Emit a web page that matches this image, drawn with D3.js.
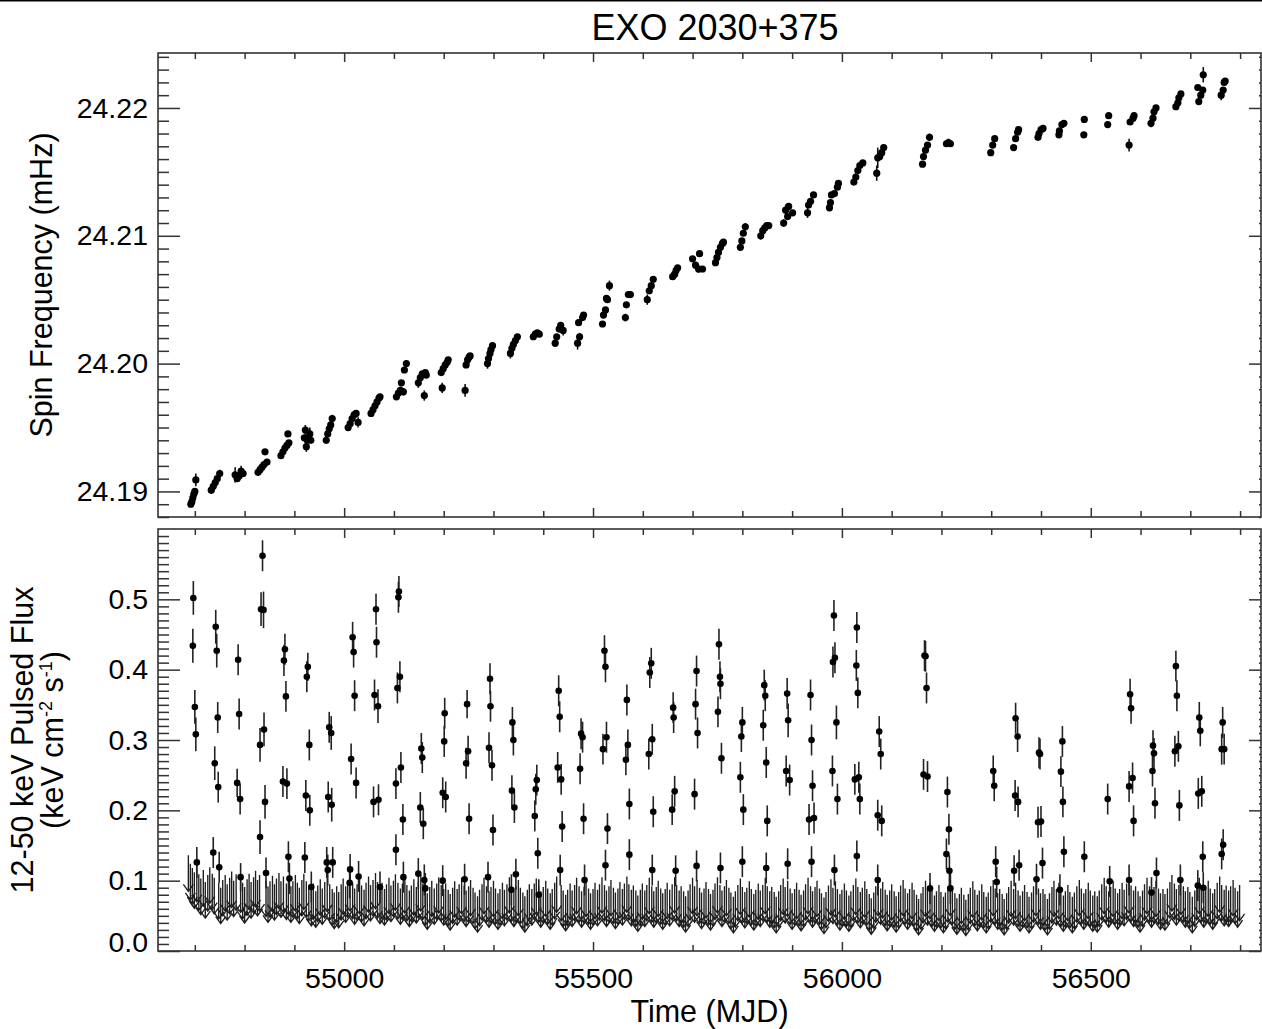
<!DOCTYPE html>
<html><head><meta charset="utf-8">
<script src="https://cdn.jsdelivr.net/npm/d3@7"></script>
<style>
body{margin:0;background:#fff}
svg{display:block}
text{font-family:"Liberation Sans",Arial,Helvetica,sans-serif;fill:#000}
</style>
</head><body>
<svg id="chart" width="1262" height="1029"></svg>
<script>
// ---------------- DATA ----------------
const chartTitle = "EXO 2030+375";
const xTitle = "Time (MJD)";
const spinTitle = "Spin Frequency (mHz)";
const xMajorTicks = [55000, 55500, 56000, 56500];
const xTickLabels = ["55000", "55500", "56000", "56500"];
const spinTicks = [24.19, 24.20, 24.21, 24.22];
const spinTickLabels = ["24.19", "24.20", "24.21", "24.22"];
const fluxTicks = [0.0, 0.1, 0.2, 0.3, 0.4, 0.5];
const fluxTickLabels = ["0.0", "0.1", "0.2", "0.3", "0.4", "0.5"];

// [MJD, spin frequency (mHz), error]
const spinPoints = [
[54692,24.1890,.0002],[54694,24.1892,.0002],[54696,24.1895,.0002],[54698,24.1898,.0002],[54700,24.1900,.0002],[54702,24.1909,.0005],
[54733,24.1901,.0003],[54737,24.1904,.0002],[54741,24.1907,.0002],[54745,24.1910,.0002],[54750,24.1914,.0003],
[54781,24.1913,.0006],[54785,24.1910,.0002],[54789,24.1912,.0002],[54793,24.1916,.0004],[54797,24.1914,.0002],
[54827,24.1915,.0003],[54831,24.1917,.0002],[54835,24.1919,.0002],[54839,24.1921,.0002],[54845,24.1923,.0002],[54841,24.1931,.0002],
[54873,24.1928,.0002],[54877,24.1931,.0002],[54881,24.1934,.0002],[54885,24.1936,.0002],[54889,24.1938,.0002],[54887,24.1945,.0002],
[54920,24.1942,.0002],[54922,24.1948,.0004],[54924,24.1935,.0004],[54926,24.1940,.0002],[54931,24.1945,.0005],[54933,24.1940,.0002],
[54964,24.1940,.0002],[54967,24.1945,.0002],[54970,24.1949,.0002],[54973,24.1952,.0002],[54976,24.1957,.0003],
[55008,24.1950,.0003],[55012,24.1953,.0002],[55016,24.1957,.0002],[55020,24.1960,.0002],[55024,24.1961,.0002],[55028,24.1954,.0004],
[55054,24.1961,.0002],[55058,24.1964,.0002],[55062,24.1967,.0002],[55066,24.1970,.0002],[55070,24.1973,.0002],[55072,24.1974,.0002],
[55105,24.1974,.0002],[55109,24.1977,.0002],[55113,24.1979,.0003],[55115,24.1985,.0002],[55119,24.1978,.0003],[55121,24.1995,.0002],[55125,24.2000,.0002],
[55149,24.1985,.0004],[55153,24.1989,.0002],[55157,24.1992,.0002],[55163,24.1993,.0002],[55165,24.1991,.0002],[55161,24.1975,.0004],
[55195,24.1993,.0002],[55199,24.1996,.0002],[55203,24.1999,.0002],[55207,24.2001,.0002],[55209,24.2003,.0002],[55197,24.1981,.0004],
[55245,24.1999,.0002],[55248,24.2003,.0002],[55251,24.2005,.0002],[55253,24.2006,.0002],[55243,24.1979,.0005],
[55288,24.2000,.0004],[55290,24.2004,.0002],[55293,24.2008,.0002],[55295,24.2011,.0002],[55298,24.2014,.0002],
[55334,24.2008,.0004],[55337,24.2012,.0002],[55340,24.2015,.0002],[55344,24.2018,.0002],[55348,24.2021,.0002],
[55380,24.2021,.0002],[55384,24.2023,.0002],[55388,24.2024,.0002],[55392,24.2023,.0002],
[55424,24.2016,.0003],[55427,24.2021,.0002],[55432,24.2027,.0002],[55435,24.2030,.0002],[55440,24.2026,.0004],
[55469,24.2016,.0005],[55473,24.2021,.0003],[55471,24.2032,.0002],[55479,24.2036,.0002],[55481,24.2038,.0002],
[55519,24.2031,.0002],[55521,24.2038,.0002],[55525,24.2042,.0002],[55529,24.2050,.0002],[55527,24.2051,.0002],[55533,24.2061,.0004],
[55565,24.2036,.0003],[55567,24.2046,.0002],[55571,24.2054,.0002],[55575,24.2054,.0002],
[55609,24.2050,.0004],[55613,24.2057,.0002],[55617,24.2061,.0002],[55621,24.2066,.0002],
[55660,24.2068,.0002],[55664,24.2070,.0003],[55667,24.2073,.0002],[55670,24.2075,.0002],
[55700,24.2082,.0002],[55706,24.2077,.0002],[55712,24.2074,.0003],[55714,24.2086,.0002],[55720,24.2074,.0002],
[55746,24.2079,.0002],[55749,24.2083,.0002],[55752,24.2087,.0002],[55756,24.2091,.0002],[55760,24.2094,.0003],[55762,24.2095,.0002],
[55796,24.2091,.0002],[55799,24.2096,.0002],[55802,24.2102,.0002],[55806,24.2107,.0003],
[55837,24.2100,.0003],[55841,24.2104,.0002],[55845,24.2106,.0002],[55849,24.2108,.0002],[55853,24.2108,.0002],
[55883,24.2110,.0003],[55887,24.2120,.0004],[55891,24.2115,.0002],[55893,24.2123,.0002],[55901,24.2118,.0002],
[55931,24.2118,.0004],[55933,24.2124,.0002],[55937,24.2127,.0002],[55943,24.2132,.0002],
[55975,24.2122,.0003],[55977,24.2126,.0002],[55979,24.2132,.0002],[55985,24.2133,.0002],[55991,24.2138,.0002],[55993,24.2141,.0002],
[56024,24.2142,.0002],[56028,24.2146,.0003],[56032,24.2151,.0002],[56036,24.2155,.0002],[56042,24.2157,.0002],
[56070,24.2149,.0006],[56072,24.2161,.0008],[56076,24.2162,.0002],[56080,24.2165,.0002],[56084,24.2169,.0002],
[56162,24.2156,.0002],[56164,24.2162,.0002],[56168,24.2167,.0002],[56172,24.2171,.0002],[56176,24.2177,.0003],
[56210,24.2172,.0002],[56214,24.2173,.0003],[56218,24.2172,.0002],
[56299,24.2165,.0002],[56303,24.2171,.0002],[56307,24.2176,.0002],
[56345,24.2169,.0002],[56349,24.2176,.0002],[56353,24.2181,.0002],[56355,24.2183,.0002],
[56394,24.2177,.0002],[56396,24.2180,.0002],[56400,24.2183,.0002],[56404,24.2184,.0002],
[56436,24.2179,.0002],[56437,24.2182,.0002],[56442,24.2187,.0002],[56446,24.2188,.0002],
[56486,24.2179,.0002],[56487,24.2191,.0002],
[56534,24.2187,.0002],[56536,24.2194,.0002],
[56577,24.2171,.0005],[56579,24.2189,.0002],[56585,24.2192,.0002],[56587,24.2194,.0002],
[56621,24.2188,.0003],[56625,24.2192,.0002],[56627,24.2197,.0002],[56631,24.2200,.0002],
[56671,24.2201,.0002],[56675,24.2204,.0002],[56677,24.2208,.0002],[56681,24.2211,.0002],
[56715,24.2216,.0002],[56717,24.2205,.0002],[56721,24.2210,.0002],[56725,24.2214,.0002],[56726,24.2226,.0006],
[56762,24.2210,.0004],[56766,24.2214,.0002],[56768,24.2220,.0002],[56770,24.2221,.0002]
];

// [MJD, 12-50 keV pulsed flux, error]
const fluxPoints = [
[54697,.502,.024],[54696,.434,.024],[54700,.347,.024],[54702,.308,.024],[54704,.126,.022],
[54742,.461,.024],[54744,.427,.024],[54746,.332,.022],[54740,.267,.024],[54747,.233,.022],[54737,.140,.022],[54749,.119,.022],
[54787,.414,.022],[54789,.337,.022],[54785,.239,.020],[54791,.216,.022],[54792,.105,.020],
[54836,.562,.022],[54833,.486,.024],[54838,.485,.026],[54839,.315,.024],[54831,.293,.024],[54841,.212,.024],[54831,.162,.024],[54843,.111,.022],
[54881,.429,.022],[54879,.413,.022],[54883,.362,.022],[54877,.241,.022],[54885,.238,.022],[54888,.134,.022],[54890,.103,.022],
[54927,.404,.020],[54925,.390,.022],[54930,.293,.022],[54923,.221,.022],[54931,.200,.022],[54921,.133,.022],[54934,.091,.022],
[54970,.318,.022],[54974,.310,.024],[54968,.219,.022],[54975,.208,.024],[54965,.126,.022],[54977,.126,.022],[54967,.115,.022],
[55017,.446,.022],[55019,.425,.022],[55021,.363,.022],[55014,.273,.022],[55024,.239,.022],[55012,.116,.022],[55011,.097,.022],[55029,.106,.022],
[55064,.486,.022],[55065,.439,.022],[55061,.364,.022],[55068,.348,.024],[55059,.212,.022],[55069,.215,.022],[55072,.091,.022],
[55109,.503,.022],[55110,.511,.022],[55112,.390,.022],[55107,.374,.022],[55114,.261,.022],[55104,.238,.022],[55118,.187,.022],[55104,.144,.022],[55119,.105,.022],
[55155,.288,.022],[55157,.275,.022],[55153,.204,.022],[55159,.181,.022],[55149,.110,.022],[55161,.101,.022],[55163,.089,.022],
[55202,.338,.022],[55201,.298,.022],[55198,.225,.022],[55204,.219,.022],[55198,.100,.022],
[55247,.351,.020],[55249,.284,.022],[55245,.267,.022],[55251,.188,.022],[55242,.102,.022],
[55293,.387,.022],[55294,.348,.022],[55291,.289,.022],[55297,.264,.022],[55299,.172,.022],[55289,.105,.022],
[55338,.325,.022],[55340,.300,.022],[55337,.228,.022],[55342,.204,.022],[55345,.109,.022],[55336,.087,.022],
[55387,.243,.022],[55385,.230,.022],[55383,.192,.022],[55389,.139,.022],[55391,.080,.022],
[55431,.370,.022],[55433,.333,.022],[55429,.261,.022],[55436,.244,.022],[55438,.177,.022],[55434,.115,.022],
[55476,.309,.022],[55479,.304,.022],[55474,.259,.022],[55481,.188,.022],[55483,.101,.022],
[55523,.427,.022],[55525,.404,.022],[55527,.304,.022],[55520,.287,.022],[55529,.174,.022],[55525,.122,.022],
[55568,.357,.022],[55570,.293,.022],[55566,.272,.022],[55573,.209,.022],[55573,.137,.022],
[55617,.409,.022],[55614,.396,.022],[55619,.301,.022],[55612,.280,.022],[55621,.198,.022],[55619,.115,.022],
[55661,.346,.022],[55662,.332,.022],[55664,.227,.022],[55659,.201,.022],[55666,.114,.022],
[55708,.398,.022],[55706,.351,.022],[55710,.310,.022],[55704,.223,.022],[55708,.121,.022],
[55753,.436,.022],[55755,.390,.022],[55756,.380,.022],[55751,.340,.022],[55758,.274,.022],[55756,.118,.022],
[55800,.325,.022],[55798,.305,.022],[55796,.247,.022],[55802,.201,.022],[55800,.127,.022],
[55844,.378,.022],[55846,.363,.022],[55842,.321,.022],[55848,.268,.022],[55850,.185,.022],[55848,.118,.022],
[55890,.366,.022],[55892,.328,.024],[55888,.256,.022],[55895,.243,.022],[55891,.124,.022],
[55937,.364,.022],[55939,.300,.022],[55941,.235,.022],[55934,.187,.022],[55944,.189,.022],[55939,.127,.022],
[55984,.477,.022],[55986,.417,.022],[55982,.411,.022],[55989,.325,.024],[55981,.256,.022],[55991,.216,.022],[55985,.115,.022],
[56030,.460,.022],[56029,.406,.022],[56032,.367,.022],[56026,.244,.022],[56034,.247,.022],[56036,.216,.022],[56030,.135,.022],
[56075,.312,.022],[56078,.280,.022],[56072,.193,.022],[56080,.185,.022],[56072,.101,.022],
[56166,.420,.022],[56168,.419,.022],[56170,.374,.022],[56164,.251,.022],[56172,.248,.022],[56177,.089,.022],
[56212,.226,.022],[56215,.173,.022],[56210,.138,.022],[56216,.114,.022],[56218,.089,.022],
[56304,.256,.022],[56306,.235,.022],[56309,.127,.022],[56311,.098,.022],
[56349,.331,.022],[56353,.305,.022],[56348,.221,.022],[56354,.212,.022],[56346,.114,.022],[56356,.122,.022],
[56396,.282,.022],[56398,.280,.022],[56394,.183,.022],[56400,.184,.022],[56391,.102,.022],[56403,.125,.022],
[56443,.298,.022],[56440,.255,.022],[56444,.212,.022],[56438,.087,.022],[56446,.141,.022],
[56487,.134,.022],
[56534,.216,.022],[56538,.099,.022],
[56579,.365,.022],[56581,.345,.022],[56577,.234,.022],[56584,.246,.022],[56586,.185,.022],[56577,.101,.022],
[56625,.292,.022],[56627,.281,.022],[56624,.256,.022],[56629,.210,.022],[56622,.083,.022],[56632,.111,.022],
[56671,.405,.022],[56673,.363,.022],[56669,.284,.022],[56676,.291,.022],[56678,.207,.022],[56680,.101,.022],
[56718,.332,.022],[56720,.313,.022],[56716,.224,.022],[56723,.227,.022],[56715,.093,.022],[56725,.134,.022],[56726,.090,.022],
[56765,.325,.022],[56763,.287,.022],[56768,.287,.022],[56763,.138,.022],[56766,.151,.022]
];

// [MJD, 12-50 keV pulsed flux upper limit]
const fluxLimits = [
[54687,.136],[54691,.124],[54695,.118],[54699,.112],[54704,.121],[54708,.109],[54712,.103],[54717,.115],[54721,.098],[54726,.108],
[54730,.119],[54735,.110],[54739,.104],[54748,.097],[54752,.090],[54756,.101],[54761,.108],[54765,.095],[54770,.104],[54774,.113],
[54778,.100],[54783,.109],[54792,.106],[54796,.097],[54800,.091],[54805,.102],[54809,.110],[54813,.098],[54818,.105],[54822,.114],
[54826,.101],[54830,.108],[54843,.100],[54847,.092],[54851,.099],[54856,.107],[54860,.095],[54864,.103],[54869,.111],[54873,.099],
[54878,.106],[54884,.096],[54888,.103],[54893,.092],[54897,.099],[54902,.108],[54906,.097],[54910,.090],[54915,.101],[54919,.110],
[54924,.099],[54929,.094],[54934,.087],[54938,.096],[54943,.085],[54947,.093],[54952,.102],[54956,.089],[54961,.098],[54966,.107],
[54971,.095],[54976,.088],[54980,.083],[54985,.092],[54989,.084],[54994,.095],[54998,.103],[55003,.092],[55007,.099],[55012,.108],
[55017,.097],[55021,.089],[55026,.095],[55031,.104],[55035,.093],[55040,.087],[55044,.097],[55049,.106],[55053,.094],[55058,.101],
[55063,.111],[55067,.098],[55072,.090],[55076,.097],[55081,.088],[55085,.095],[55090,.104],[55094,.093],[55099,.100],[55103,.109],
[55108,.097],[55113,.089],[55117,.096],[55122,.105],[55126,.094],[55131,.086],[55135,.093],[55140,.102],[55145,.091],[55149,.098],
[55154,.108],[55158,.096],[55163,.088],[55167,.082],[55172,.091],[55176,.100],[55181,.089],[55186,.096],[55190,.105],[55195,.094],
[55200,.088],[55204,.096],[55209,.087],[55213,.081],[55218,.090],[55222,.099],[55227,.088],[55231,.095],[55236,.104],[55241,.093],
[55245,.086],[55250,.092],[55254,.101],[55259,.090],[55263,.083],[55268,.078],[55272,.087],[55277,.095],[55281,.104],[55286,.092],
[55291,.085],[55295,.091],[55300,.100],[55304,.089],[55309,.082],[55313,.088],[55318,.097],[55322,.087],[55327,.095],[55332,.105],
[55336,.093],[55341,.086],[55345,.092],[55350,.101],[55354,.090],[55359,.083],[55363,.078],[55368,.087],[55372,.095],[55377,.088],
[55382,.096],[55386,.103],[55391,.092],[55395,.085],
[55400,.091],[55405,.100],[55409,.089],[55414,.082],[55418,.088],[55423,.097],[55427,.106],[55436,.094],[55440,.086],[55445,.080],
[55449,.087],[55454,.096],[55458,.086],[55463,.094],[55467,.104],[55472,.092],[55477,.085],[55482,.091],[55486,.100],[55491,.089],
[55495,.082],[55500,.088],[55504,.097],[55509,.087],[55513,.095],[55518,.105],[55523,.094],[55527,.086],[55532,.092],[55536,.101],
[55541,.090],[55545,.083],[55550,.089],[55554,.098],[55559,.088],[55563,.096],[55568,.106],[55572,.095],[55577,.087],[55581,.093],
[55586,.086],[55590,.079],[55595,.087],[55599,.096],[55604,.086],[55608,.094],[55613,.104],[55618,.092],[55622,.085],[55627,.091],
[55631,.100],[55636,.089],[55640,.082],[55645,.088],[55649,.097],[55654,.087],[55659,.095],[55664,.105],[55668,.094],[55673,.086],
[55677,.092],[55682,.085],[55686,.078],[55691,.086],[55695,.095],[55700,.104],[55704,.092],[55709,.101],[55714,.090],[55718,.083],
[55723,.089],[55727,.098],[55732,.088],[55736,.081],[55741,.087],[55745,.096],[55750,.105],[55755,.094],[55759,.086],[55764,.092],
[55768,.101],[55773,.090],[55777,.083],[55782,.077],[55786,.085],[55791,.094],[55796,.103],[55800,.091],[55805,.084],[55809,.090],
[55814,.099],[55818,.088],[55823,.081],[55827,.087],[55832,.096],[55836,.086],[55841,.094],[55846,.104],[55850,.092],[55855,.085],
[55859,.091],[55864,.084],[55868,.077],[55873,.085],[55877,.094],[55882,.103],[55886,.091],[55891,.100],[55896,.089],[55900,.082],
[55905,.088],[55909,.097],[55914,.087],[55918,.080],[55923,.086],[55927,.095],[55932,.104],[55937,.092],[55941,.085],[55946,.091],
[55950,.100],[55955,.089],[55959,.082],[55964,.076],[55968,.084],[55973,.093],[55978,.102],[55982,.090],[55987,.099],[55991,.088],
[55996,.081],[56000,.087],[56005,.096],[56009,.086],[56014,.079],[56018,.085],[56023,.094],[56028,.103],[56032,.091],[56037,.084],
[56041,.090],[56046,.099],[56050,.088],[56055,.081],[56059,.075],[56064,.083],[56068,.092],[56073,.101],[56078,.089],[56082,.098],
[56087,.087],[56091,.080],[56096,.086],[56100,.095],[56105,.085],[56109,.078],[56114,.084],[56118,.093],
[56123,.101],[56127,.089],[56132,.082],[56136,.088],[56141,.097],[56145,.087],[56150,.080],[56154,.074],[56159,.082],[56163,.091],
[56168,.100],[56172,.088],[56177,.097],[56181,.086],[56186,.079],[56190,.085],[56195,.094],[56199,.084],[56204,.077],[56208,.083],
[56213,.092],[56218,.101],[56222,.089],[56227,.082],[56231,.075],[56236,.081],[56240,.090],[56245,.080],[56249,.073],[56254,.081],
[56258,.090],[56263,.099],[56267,.087],[56272,.080],[56276,.086],[56281,.095],[56285,.084],[56290,.077],[56294,.083],[56299,.092],
[56304,.101],[56308,.089],[56313,.082],[56317,.088],[56322,.081],[56326,.074],[56331,.082],[56335,.091],[56340,.100],[56345,.088],
[56349,.097],[56354,.086],[56358,.079],[56363,.085],[56367,.094],[56372,.084],[56376,.077],[56381,.083],[56385,.092],[56390,.101],
[56395,.089],[56399,.082],[56404,.088],[56408,.081],[56413,.074],[56417,.082],[56422,.091],[56426,.100],[56431,.088],[56436,.097],
[56440,.086],[56445,.079],[56449,.085],[56454,.094],[56458,.084],[56463,.077],[56467,.083],[56472,.092],[56477,.101],[56481,.089],
[56486,.082],[56490,.088],[56495,.097],[56499,.086],[56504,.079],[56508,.085],[56513,.078],[56517,.086],[56522,.095],[56527,.104],
[56531,.092],[56536,.085],[56540,.091],[56545,.100],[56549,.089],[56554,.082],[56558,.088],[56563,.097],[56567,.087],[56572,.096],
[56577,.105],[56581,.093],[56586,.086],[56590,.092],[56595,.085],[56599,.078],[56604,.086],[56608,.095],[56613,.104],[56618,.092],
[56622,.085],[56627,.091],[56631,.100],[56636,.089],[56640,.082],[56645,.088],[56649,.081],[56654,.089],[56659,.098],[56663,.108],
[56668,.096],[56672,.088],[56677,.094],[56681,.103],[56686,.092],[56690,.085],[56695,.091],[56699,.084],[56704,.077],[56709,.086],
[56713,.095],[56718,.104],[56722,.092],[56727,.085],[56731,.091],[56736,.100],[56740,.089],[56745,.082],[56749,.088],[56754,.097],
[56759,.106],[56763,.094],[56768,.087],[56772,.093],[56777,.086],[56781,.092],[56786,.101],[56790,.090],[56795,.085],[56799,.094]
];

// ---------------- LAYOUT ----------------
const W = 1262, H = 1029;
const L = 158, R = 1261;
const top1 = 53, bot1 = 517, top2 = 529, bot2 = 951;
const frameColor = "#333";

const svg = d3.select("#chart");
svg.append("rect").attr("width", W).attr("height", H).attr("fill", "#fff");
svg.append("line").attr("x1", 0).attr("x2", W).attr("y1", 0.75).attr("y2", 0.75)
  .attr("stroke", "#000").attr("stroke-width", 1.5);

const x = d3.scaleLinear().domain([54626, 56842]).range([L, R]);
const ySpin = d3.scaleLinear().domain([24.1880, 24.2243]).range([bot1, top1]);
const yFlux = d3.scaleLinear().domain([0, 0.6]).range([bot2, top2]);

const xMinor = d3.range(54700, 56850, 100).filter(v => v % 500 !== 0);
const spinMinor = d3.range(24188, 24225, 1).map(v => v / 1000).filter(v => Math.round(v * 1000) % 10 !== 0);
const fluxMinor = d3.range(1, 60, 1).map(v => v / 100).filter(v => Math.round(v * 100) % 10 !== 0);

function styleAxis(g) {
  g.select(".domain").remove();
  g.selectAll(".tick line").attr("stroke", frameColor).attr("stroke-width", 1.5);
  g.selectAll("text").style("font-size", "28.5px").style("font-family", '"Liberation Sans",Arial,sans-serif').attr("fill", "#000");
}

function drawPanel(yScale, yTop, yBot, majors, majorLabels, minors, showX) {
  const gl = svg.append("g").attr("transform", `translate(${L},0)`)
    .call(d3.axisLeft(yScale).tickValues(majors).tickSize(-22).tickPadding(10)
      .tickFormat((d, i) => majorLabels[i]))
    .call(styleAxis);
  svg.append("g").attr("transform", `translate(${L},0)`)
    .call(d3.axisLeft(yScale).tickValues(minors).tickSize(-11).tickFormat(""))
    .call(styleAxis);
  svg.append("g").attr("transform", `translate(${R},0)`)
    .call(d3.axisRight(yScale).tickValues(majors).tickSize(-12).tickFormat(""))
    .call(styleAxis);
  svg.append("g").attr("transform", `translate(${R},0)`)
    .call(d3.axisRight(yScale).tickValues(minors).tickSize(-2).tickFormat(""))
    .call(styleAxis);
  svg.append("g").attr("transform", `translate(0,${yBot})`)
    .call(d3.axisBottom(x).tickValues(xMajorTicks).tickSize(-9).tickPadding(17)
      .tickFormat(showX ? ((d, i) => xTickLabels[i]) : ""))
    .call(styleAxis);
  svg.append("g").attr("transform", `translate(0,${yBot})`)
    .call(d3.axisBottom(x).tickValues(xMinor).tickSize(-6).tickFormat(""))
    .call(styleAxis);
  svg.append("g").attr("transform", `translate(0,${yTop})`)
    .call(d3.axisTop(x).tickValues(xMajorTicks).tickSize(-9).tickFormat(""))
    .call(styleAxis);
  svg.append("g").attr("transform", `translate(0,${yTop})`)
    .call(d3.axisTop(x).tickValues(xMinor).tickSize(-6).tickFormat(""))
    .call(styleAxis);
  svg.append("rect").attr("x", L).attr("y", yTop).attr("width", R - L).attr("height", yBot - yTop)
    .attr("fill", "none").attr("stroke", frameColor).attr("stroke-width", 1.6);
  return gl;
}

// ---------------- TOP PANEL ----------------
const gSpin = svg.append("g");
gSpin.selectAll("line.err").data(spinPoints).join("line")
  .attr("x1", d => x(d[0])).attr("x2", d => x(d[0]))
  .attr("y1", d => ySpin(d[1] - d[2])).attr("y2", d => ySpin(d[1] + d[2]))
  .attr("stroke", "#111").attr("stroke-width", 1.6);
gSpin.selectAll("circle").data(spinPoints).join("circle")
  .attr("cx", d => x(d[0])).attr("cy", d => ySpin(d[1])).attr("r", 3.6).attr("fill", "#000");

drawPanel(ySpin, top1, bot1, spinTicks, spinTickLabels, spinMinor, false);

// ---------------- BOTTOM PANEL ----------------
const arrowLen = 36, headW = 5, headH = 7;
const gLim = svg.append("g");
gLim.selectAll("path").data(fluxLimits).join("path")
  .attr("d", d => {
    const xx = x(d[0]), y0 = yFlux(d[1]), y1 = y0 + arrowLen;
    return `M${xx},${y0}L${xx},${y1}M${xx - headW},${y1 - headH}L${xx},${y1}L${xx + headW},${y1 - headH}`;
  })
  .attr("fill", "none").attr("stroke", "#1e1e1e").attr("stroke-width", 1.35);

const gFlux = svg.append("g");
gFlux.selectAll("line").data(fluxPoints).join("line")
  .attr("x1", d => x(d[0])).attr("x2", d => x(d[0]))
  .attr("y1", d => yFlux(d[1] - d[2])).attr("y2", d => yFlux(d[1] + d[2]))
  .attr("stroke", "#222").attr("stroke-width", 1.6);
gFlux.selectAll("circle").data(fluxPoints).join("circle")
  .attr("cx", d => x(d[0])).attr("cy", d => yFlux(d[1])).attr("r", 3.3).attr("fill", "#000");

const gFluxAxis = drawPanel(yFlux, top2, bot2, fluxTicks, fluxTickLabels, fluxMinor, true);
// the lowest label sits slightly above its tick, as in the original plot
gFluxAxis.selectAll(".tick").filter(d => d === 0).select("text").attr("dy", "0.02em");

// ---------------- TEXT ----------------
svg.append("text").attr("x", 715).attr("y", 40).attr("text-anchor", "middle")
  .style("font-size", "36px").text(chartTitle);
svg.append("text").attr("x", (L + R) / 2).attr("y", 1022).attr("text-anchor", "middle")
  .style("font-size", "30.5px").text(xTitle);
svg.append("text").attr("transform", `translate(52,${(top1 + bot1) / 2}) rotate(-90)`)
  .attr("text-anchor", "middle").style("font-size", "30.5px").text(spinTitle);
svg.append("text").attr("transform", `translate(33,${(top2 + bot2) / 2}) rotate(-90)`)
  .attr("text-anchor", "middle").style("font-size", "30.5px").text("12-50 keV Pulsed Flux");
const t2 = svg.append("text").attr("transform", `translate(63,${(top2 + bot2) / 2}) rotate(-90)`)
  .attr("text-anchor", "middle").style("font-size", "30.5px");
t2.append("tspan").text("(keV cm");
t2.append("tspan").attr("dy", -11).style("font-size", "18px").text("-2");
t2.append("tspan").attr("dy", 11).text(" s");
t2.append("tspan").attr("dy", -11).style("font-size", "18px").text("-1");
t2.append("tspan").attr("dy", 11).text(")");
</script>
</body></html>
